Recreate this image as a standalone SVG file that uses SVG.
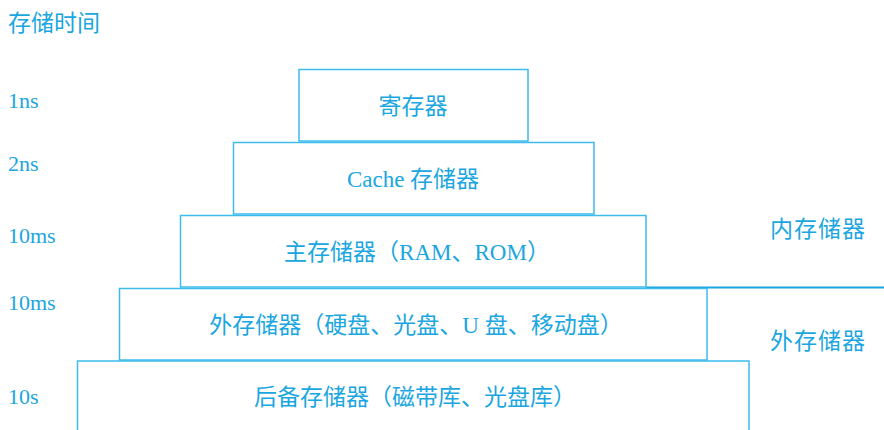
<svg xmlns="http://www.w3.org/2000/svg" width="884" height="430" viewBox="0 0 884 430">
<style>
.box{fill:#fff;stroke:#3dbbec;stroke-width:1.5}
.t{font-family:"Liberation Serif","Noto Sans CJK SC",serif;font-size:23px;fill:#1aa6e0}
.s{font-size:22px}
.c{text-anchor:middle}
.ln{stroke:#1aa6e0;stroke-width:2;fill:none}
</style>
<rect width="884" height="430" fill="#fff"/>
<g id="labels">
<text class="t" x="8" y="31" textLength="92">存储时间</text>
<text class="t s" x="8" y="108">1ns</text>
<text class="t s" x="8" y="171">2ns</text>
<text class="t s" x="8" y="243">10ms</text>
<text class="t s" x="8" y="310">10ms</text>
<text class="t s" x="8" y="404">10s</text>
<text class="t" x="770" y="237" textLength="95">内存储器</text>
<text class="t" x="770" y="349" textLength="95">外存储器</text>
</g>
<g id="connectors">
<line class="ln" x1="646" y1="287.5" x2="884" y2="287.5"/>
</g>
<g id="n5"><rect class="box" x="77.5" y="361" width="671.5" height="80"/><text class="t c" x="415" y="405">后备存储器（磁带库、光盘库）</text></g>
<g id="n4"><rect class="box" x="119.5" y="288.5" width="587.5" height="71.5"/><text class="t c" x="416" y="333">外存储器（硬盘、光盘、U 盘、移动盘）</text></g>
<g id="n3"><rect class="box" x="180.5" y="215.5" width="465.5" height="71.5"/><text class="t c" x="417" y="260">主存储器（RAM、ROM）</text></g>
<g id="n2"><rect class="box" x="233.5" y="142.5" width="360.5" height="71.5"/><text class="t c" x="413" y="187">Cache 存储器</text></g>
<g id="n1"><rect class="box" x="299" y="69.5" width="229" height="71.5"/><text class="t c" x="413" y="114">寄存器</text></g>
</svg>
